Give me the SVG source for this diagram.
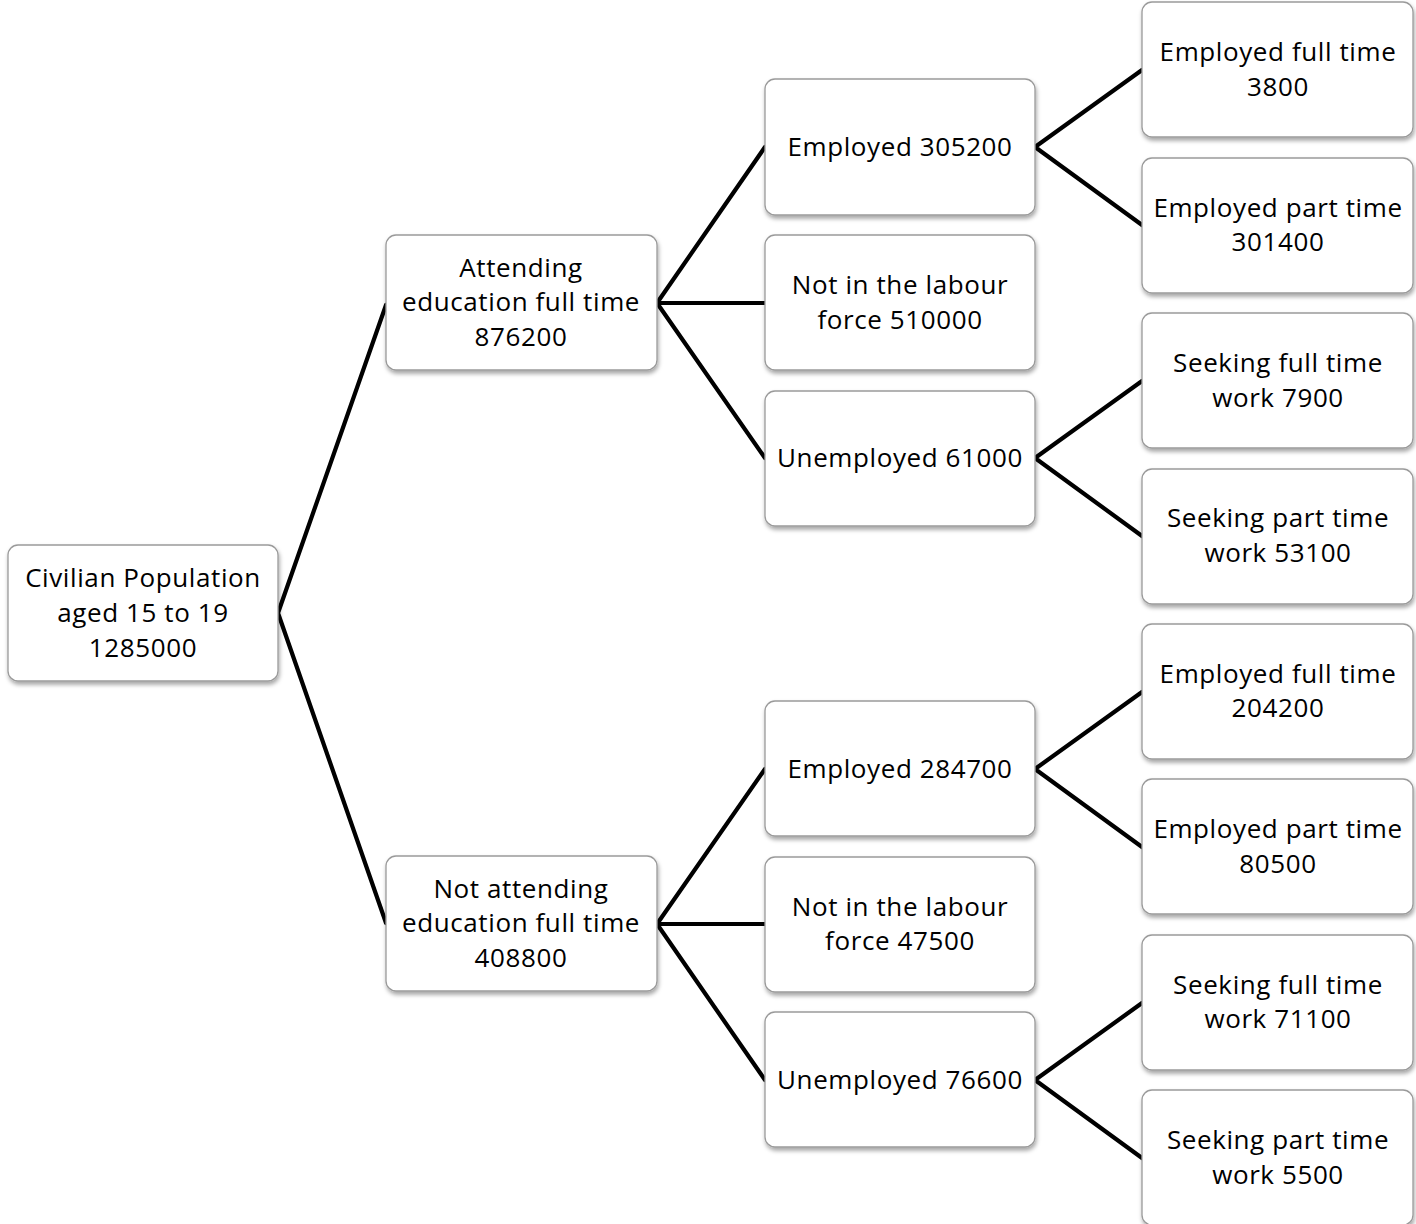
<svg xmlns="http://www.w3.org/2000/svg" width="1416" height="1224" viewBox="0 0 1416 1224">
<style>
.box{fill:#fff;stroke:#9a9a9a;stroke-width:1.3;filter:url(#sh)}
.t{font-family:"Open Sans","Liberation Sans",sans-serif;font-size:26px;letter-spacing:0.6px;fill:#000;text-anchor:middle}
.c{stroke:#000;stroke-width:4.2;fill:none;stroke-linecap:round;stroke-linejoin:round}
</style>
<defs>
<filter id="sh" x="-10%" y="-10%" width="125%" height="130%">
<feDropShadow dx="1" dy="3" stdDeviation="2" flood-color="#000" flood-opacity="0.35"/>
</filter>
</defs>
<rect width="1416" height="1224" fill="#fff"/>
<g id="connectors">
<path class="c" d="M386 305 L278 613 L386 923"/>
<path class="c" d="M765 147 L657 303 L765 458 M657 303 L765 303"/>
<path class="c" d="M765 769 L657 924 L765 1080 M657 924 L765 924"/>
<path class="c" d="M1142 70 L1035 147 L1142 225"/>
<path class="c" d="M1142 381 L1035 458 L1142 536"/>
<path class="c" d="M1142 692 L1035 769 L1142 847"/>
<path class="c" d="M1142 1003 L1035 1080 L1142 1158"/>
</g>
<g id="root"><rect class="box" x="8" y="545" width="270" height="136" rx="10"/>
<text class="t" x="143" y="587">Civilian Population</text><text class="t" x="143" y="622">aged 15 to 19</text><text class="t" x="143" y="657">1285000</text></g>
<g id="att"><rect class="box" x="386" y="235" width="271" height="135" rx="10"/>
<text class="t" x="521" y="277">Attending</text><text class="t" x="521" y="311">education full time</text><text class="t" x="521" y="346">876200</text></g>
<g id="notatt"><rect class="box" x="386" y="856" width="271" height="135" rx="10"/>
<text class="t" x="521" y="898">Not attending</text><text class="t" x="521" y="932">education full time</text><text class="t" x="521" y="967">408800</text></g>
<g id="emp1"><rect class="box" x="765" y="79" width="270" height="136" rx="10"/>
<text class="t" x="900" y="156">Employed 305200</text></g>
<g id="nilf1"><rect class="box" x="765" y="235" width="270" height="135" rx="10"/>
<text class="t" x="900" y="294">Not in the labour</text><text class="t" x="900" y="329">force 510000</text></g>
<g id="unemp1"><rect class="box" x="765" y="391" width="270" height="135" rx="10"/>
<text class="t" x="900" y="467">Unemployed 61000</text></g>
<g id="emp2"><rect class="box" x="765" y="701" width="270" height="135" rx="10"/>
<text class="t" x="900" y="778">Employed 284700</text></g>
<g id="nilf2"><rect class="box" x="765" y="857" width="270" height="135" rx="10"/>
<text class="t" x="900" y="916">Not in the labour</text><text class="t" x="900" y="950">force 47500</text></g>
<g id="unemp2"><rect class="box" x="765" y="1012" width="270" height="135" rx="10"/>
<text class="t" x="900" y="1089">Unemployed 76600</text></g>
<g id="eft1"><rect class="box" x="1142" y="2" width="271" height="135" rx="10"/>
<text class="t" x="1278" y="61">Employed full time</text><text class="t" x="1278" y="96">3800</text></g>
<g id="ept1"><rect class="box" x="1142" y="158" width="271" height="135" rx="10"/>
<text class="t" x="1278" y="217">Employed part time</text><text class="t" x="1278" y="251">301400</text></g>
<g id="sft1"><rect class="box" x="1142" y="313" width="271" height="135" rx="10"/>
<text class="t" x="1278" y="372">Seeking full time</text><text class="t" x="1278" y="407">work 7900</text></g>
<g id="spt1"><rect class="box" x="1142" y="469" width="271" height="135" rx="10"/>
<text class="t" x="1278" y="527">Seeking part time</text><text class="t" x="1278" y="562">work 53100</text></g>
<g id="eft2"><rect class="box" x="1142" y="624" width="271" height="135" rx="10"/>
<text class="t" x="1278" y="683">Employed full time</text><text class="t" x="1278" y="717">204200</text></g>
<g id="ept2"><rect class="box" x="1142" y="779" width="271" height="135" rx="10"/>
<text class="t" x="1278" y="838">Employed part time</text><text class="t" x="1278" y="873">80500</text></g>
<g id="sft2"><rect class="box" x="1142" y="935" width="271" height="135" rx="10"/>
<text class="t" x="1278" y="994">Seeking full time</text><text class="t" x="1278" y="1028">work 71100</text></g>
<g id="spt2"><rect class="box" x="1142" y="1090" width="271" height="135" rx="10"/>
<text class="t" x="1278" y="1149">Seeking part time</text><text class="t" x="1278" y="1184">work 5500</text></g>
</svg>
